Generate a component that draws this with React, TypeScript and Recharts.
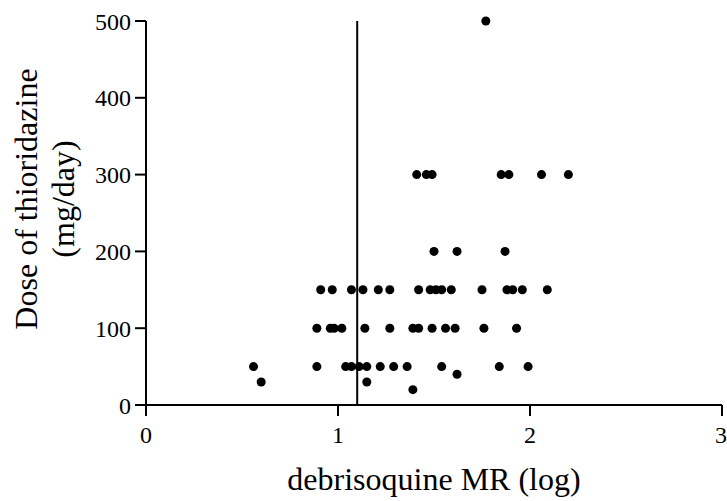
import { ScatterChart, Scatter, XAxis, YAxis, ZAxis, ReferenceLine } from 'recharts';

// debrisoquine MR (log) of each patient, grouped by daily dose
const mrAt500 = [1.77];
const mrAt300 = [1.41, 1.46, 1.49, 1.85, 1.89, 2.06, 2.2];
const mrAt200 = [1.5, 1.62, 1.87];
const mrAt150 = [0.91, 0.97, 1.07, 1.13, 1.21, 1.27, 1.42, 1.48, 1.51, 1.54, 1.59, 1.75, 1.88, 1.91, 1.96, 2.09];
const mrAt100 = [0.89, 0.96, 0.98, 1.02, 1.14, 1.27, 1.39, 1.42, 1.49, 1.56, 1.61, 1.76, 1.93];
const mrAt50 = [0.56, 0.89, 1.04, 1.07, 1.11, 1.15, 1.22, 1.29, 1.36, 1.54, 1.84, 1.99];
const mrAt40 = [1.62];
const mrAt30 = [0.6, 1.15];
const mrAt20 = [1.39];

const doseGroups: [number, number[]][] = [
  [500, mrAt500],
  [300, mrAt300],
  [200, mrAt200],
  [150, mrAt150],
  [100, mrAt100],
  [50, mrAt50],
  [40, mrAt40],
  [30, mrAt30],
  [20, mrAt20],
];

const xTicks = [0, 1, 2, 3];
const yTicks = [0, 100, 200, 300, 400, 500];
const cutoffMR = 1.1;

const points = doseGroups.flatMap(([dose, mrs]) => mrs.map((mr) => ({ mr, dose })));

const FONT = 'Liberation Serif';
const tickStyle = { fill: '#000', fontSize: 24, fontFamily: FONT };

// force the serif face on every svg text (tick labels kept falling back to sans)
const css = `
  svg text, .recharts-text, .recharts-cartesian-axis-tick-value, .recharts-cartesian-axis-tick-value tspan {
    font-family: 'Liberation Serif', 'Times New Roman', serif !important;
  }
`;

// axis titles drawn in an overlay, same frame as the chart
function Titles() {
  return (
    <svg
      width={727}
      height={501}
      style={{ position: 'absolute', left: 0, top: 0, pointerEvents: 'none' }}
      fill="#000"
    >
      <text x={434} y={490} textAnchor="middle" fontSize={32}>
        debrisoquine MR (log)
      </text>
      <text x={37} y={199} textAnchor="middle" fontSize={32} transform="rotate(-90, 37, 199)">
        Dose of thioridazine
      </text>
      <text x={74} y={199} textAnchor="middle" fontSize={32} transform="rotate(-90, 74, 199)">
        (mg/day)
      </text>
    </svg>
  );
}

export default function App() {
  return (
    <div style={{ position: 'absolute', left: 0, top: 0, width: 727, height: 501, background: '#fff' }}>
      <style>{css}</style>
      <ScatterChart width={727} height={501} margin={{ top: 21, right: 5, bottom: 0, left: 0 }}>
        <XAxis
          type="number"
          dataKey="mr"
          domain={[0, 3]}
          ticks={xTicks}
          height={96}
          tickSize={11}
          tickMargin={10}
          tick={tickStyle}
          axisLine={{ stroke: '#000', strokeWidth: 2 }}
          tickLine={{ stroke: '#000', strokeWidth: 2 }}
        />
        <YAxis
          type="number"
          dataKey="dose"
          domain={[0, 500]}
          ticks={yTicks}
          width={146}
          tickSize={11}
          tickMargin={4}
          tick={tickStyle}
          axisLine={{ stroke: '#000', strokeWidth: 2 }}
          tickLine={{ stroke: '#000', strokeWidth: 2 }}
        />
        <ZAxis range={[50, 50]} />
        <ReferenceLine x={cutoffMR} stroke="#000" strokeWidth={2} />
        <Scatter data={points} fill="#000" isAnimationActive={false} />
      </ScatterChart>
      <Titles />
    </div>
  );
}
